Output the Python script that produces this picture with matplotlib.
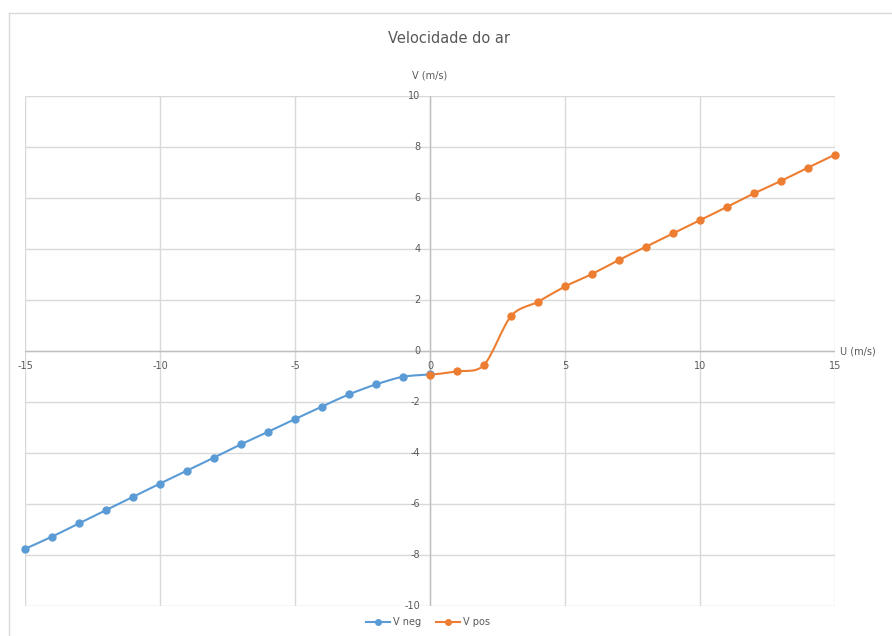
import numpy as np
import matplotlib
matplotlib.use('Agg')
import matplotlib.pyplot as plt
from matplotlib.path import Path
import matplotlib.patches as patches
from matplotlib.lines import Line2D

# data
u_neg = [-15, -14, -13, -12, -11, -10, -9, -8, -7, -6, -5, -4, -3, -2, -1, 0]
v_neg = [-7.76, -7.28, -6.76, -6.24, -5.72, -5.20, -4.69, -4.18, -3.66, -3.17,
         -2.67, -2.18, -1.70, -1.31, -1.01, -0.92]
u_pos = [0, 1, 2, 3, 4, 5, 6, 7, 8, 9, 10, 11, 12, 13, 14, 15]
v_pos = [-0.93, -0.80, -0.55, 1.37, 1.93, 2.53, 3.02, 3.57, 4.09, 4.61,
         5.13, 5.65, 6.18, 6.67, 7.19, 7.70]

x_ticks = [-15, -10, -5, 0, 5, 10, 15]
y_ticks = [-10, -8, -6, -4, -2, 0, 2, 4, 6, 8, 10]

blue = '#5b9bd5'
orange = '#ed7d31'
grid_c = '#d9d9d9'
text_c = '#595959'


def smooth_path(x, y, t=0.45):
    # excel-like smoothed line: cubic bezier segments through every point
    x = np.asarray(x, float)
    y = np.asarray(y, float)
    n = len(x)
    verts = [(x[0], y[0])]
    codes = [Path.MOVETO]
    for i in range(n - 1):
        x0, y0 = (x[i - 1], y[i - 1]) if i > 0 else (x[i], y[i])
        x3, y3 = (x[i + 2], y[i + 2]) if i + 2 < n else (x[i + 1], y[i + 1])
        c1 = (x[i] + (x[i + 1] - x0) * t / 3, y[i] + (y[i + 1] - y0) * t / 3)
        c2 = (x[i + 1] - (x3 - x[i]) * t / 3, y[i + 1] - (y3 - y[i]) * t / 3)
        verts += [c1, c2, (x[i + 1], y[i + 1])]
        codes += [Path.CURVE4] * 3
    return Path(verts, codes)


fig = plt.figure(figsize=(8.92, 6.36), dpi=100)
ax = fig.add_axes([25 / 892, 30 / 636, 810 / 892, 510 / 636])
ax.set_xlim(-15, 15)
ax.set_ylim(-10, 10)
for s in ax.spines.values():
    s.set_visible(False)
ax.set_xticks([])
ax.set_yticks([])

for xv in x_ticks:
    ax.axvline(xv, color=grid_c, lw=1, zorder=0)
for yv in y_ticks:
    ax.axhline(yv, color=grid_c, lw=1, zorder=0)
ax.axhline(0, color='#bfbfbf', lw=1, zorder=1)
ax.axvline(0, color='#bfbfbf', lw=1, zorder=1)

for xv in x_ticks:
    ax.text(xv, -0.4, str(xv), ha='center', va='top', fontsize=7, color=text_c)
for yv in y_ticks:
    ax.text(-0.35, yv, str(yv), ha='right', va='center', fontsize=7, color=text_c)

ax.add_patch(patches.PathPatch(smooth_path(u_neg, v_neg), fill=False,
                               edgecolor=blue, lw=1.5, zorder=3))
ax.add_patch(patches.PathPatch(smooth_path(u_pos, v_pos), fill=False,
                               edgecolor=orange, lw=1.5, zorder=3))
ax.plot(u_neg, v_neg, 'o', color=blue, ms=5, zorder=4, clip_on=False)
ax.plot(u_pos, v_pos, 'o', color=orange, ms=5, zorder=4, clip_on=False)

ax.text(0, 10.6, 'V (m/s)', ha='center', va='bottom', fontsize=7, color=text_c)
ax.text(15.2, 0, 'U (m/s)', ha='left', va='center', fontsize=7, color=text_c)
fig.text(0.503, 0.94, 'Velocidade do ar', ha='center', va='center',
         fontsize=10.5, color=text_c)

# chart area border
fig.add_artist(Line2D([9 / 892, 1], [1 - 13 / 636] * 2, color='#d9d9d9', lw=1))
fig.add_artist(Line2D([9 / 892] * 2, [0, 1 - 13 / 636], color='#d9d9d9', lw=1))

handles = [Line2D([], [], color=blue, marker='o', ms=4, lw=1.5),
           Line2D([], [], color=orange, marker='o', ms=4, lw=1.5)]
fig.legend(handles, ['V neg', 'V pos'], loc='center', bbox_to_anchor=(0.48, 0.022),
           ncol=2, frameon=False, fontsize=7, handlelength=2.5, columnspacing=1.5,
           handletextpad=0.3, labelcolor=text_c)

fig.savefig('out.png', dpi=100)
